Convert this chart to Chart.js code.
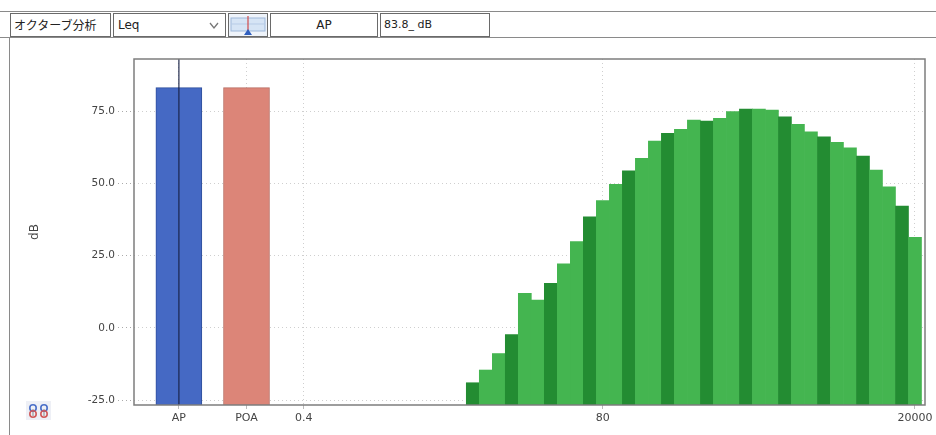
<!DOCTYPE html>
<html><head><meta charset="utf-8">
<script src="https://cdn.jsdelivr.net/npm/chart.js@4"></script>
<style>
html,body{margin:0;padding:0;background:#fff;width:936px;height:435px;overflow:hidden;font-family:"DejaVu Sans",sans-serif;}
#bar{position:absolute;left:0;top:11px;width:936px;height:27px;border-top:1px solid #8a8a8a;border-bottom:1px solid #8a8a8a;box-sizing:border-box;}
.b{position:absolute;top:13px;height:24px;border:1px solid #6a6a6a;background:#fff;font-size:12px;line-height:22px;color:#222;box-sizing:border-box;white-space:nowrap;}
#frame{position:absolute;left:9px;top:38px;width:1px;height:397px;background:#8a8a8a;}
#c{position:absolute;left:11px;top:40px;}
#pins{position:absolute;left:26px;top:401px;}
</style></head>
<body>
<div id="bar"></div>
<div class="b" style="left:10px;width:101px;padding-left:3px;font-family:'Noto Sans CJK JP',sans-serif;">オクターブ分析</div>
<div class="b" style="left:113px;width:113px;padding-left:4px;">Leq
  <svg width="10" height="8" style="position:absolute;right:6px;top:8px"><polyline points="1,1 5,6 9,1" fill="none" stroke="#777" stroke-width="1.3"/></svg>
</div>
<div class="b" style="left:228px;width:40px;background:#eef3fa;">
  <svg width="38" height="22" style="position:absolute;left:0;top:0">
    <rect x="2" y="4" width="34" height="13" fill="#d6e4f5" stroke="#9db8da" stroke-width="1"/>
    <line x1="2" y1="10" x2="36" y2="10" stroke="#b7cbe6" stroke-width="1"/>
    <line x1="19" y1="2" x2="19" y2="18" stroke="#d24a4a" stroke-width="1.2"/>
    <polygon points="15,21 19,15 23,21" fill="#2f5fbf"/>
  </svg>
</div>
<div class="b" style="left:270px;width:108px;text-align:center;">AP</div>
<div class="b" style="left:380px;width:110px;padding-left:3px;font-size:11px;">83.8_ dB</div>
<div id="frame"></div>
<svg id="pins" width="26" height="20">
  <rect x="0" y="0" width="25" height="19" fill="#eef0f6"/>
  <line x1="7" y1="8" x2="7" y2="15" stroke="#888" stroke-width="1"/>
  <line x1="18" y1="8" x2="18" y2="15" stroke="#888" stroke-width="1"/>
  <circle cx="7" cy="7" r="3.2" fill="none" stroke="#4a6fc8" stroke-width="1.6"/>
  <circle cx="18" cy="7" r="3.2" fill="none" stroke="#4a6fc8" stroke-width="1.6"/>
  <circle cx="7" cy="13" r="3.2" fill="none" stroke="#d05a5a" stroke-width="1.6"/>
  <circle cx="18" cy="13" r="3.2" fill="none" stroke="#d05a5a" stroke-width="1.6"/>
</svg>
<canvas id="c" width="925" height="395"></canvas>
<script>
// ---- data ----
const summaryLabels = ['AP', 'POA'];
const summaryValues = [83.1, 83.1];
const bandLabels = ['8','10','12.5','16','20','25','31.5','40','50','63','80','100','125','160','200','250','315','400','500','630','800','1000','1250','1600','2000','2500','3150','4000','5000','6300','8000','10000','12500','16000','20000'];
const bandValues = [-19.0,-14.6,-8.9,-2.3,11.9,9.6,15.4,22.1,29.8,38.4,44.0,49.6,54.3,58.6,64.6,67.3,68.7,71.9,71.5,72.5,74.8,75.7,75.7,75.3,73.0,70.4,67.8,66.1,64.2,62.3,59.4,54.6,48.8,42.1,31.3];
const freqTickLabels = ['0.4','80','20000'];
const yTickValues = [-25, 0, 25, 50, 75];

// ---- layout ----
const baseFreq = 0.4;
const slotOf = f => Math.round(10 * Math.log10(parseFloat(f) / baseFreq)); // 1/3-octave slot
const summarySlots = [-9.6, -4.4];
const xMin = -13.05, xMax = 47.77;
const yMin = -26.7, yMax = 93.0;
const allTickLabels = [...summaryLabels, ...freqTickLabels];
const allTickSlots = [...summarySlots, ...freqTickLabels.map(slotOf)];

const dark = '#238c32', light = '#44b550';

const framePlugin = {
  id: 'frame',
  afterDatasetsDraw(chart) {
    const {ctx, chartArea: a, scales} = chart;
    ctx.save();
    // cursor line at AP
    const cx = scales.x.getPixelForValue(summarySlots[0]);
    ctx.strokeStyle = 'rgba(25,35,70,0.72)';
    ctx.lineWidth = 1.6;
    ctx.beginPath(); ctx.moveTo(cx, a.top); ctx.lineTo(cx, a.bottom); ctx.stroke();
    // plot frame
    ctx.strokeStyle = '#7d7d7d';
    ctx.lineWidth = 1.5;
    ctx.strokeRect(a.left, a.top, a.right - a.left, a.bottom - a.top);
    ctx.restore();
  }
};

new Chart(document.getElementById('c'), {
  type: 'bar',
  data: {
    datasets: [
      {
        data: summaryLabels.map((l, i) => ({x: summarySlots[i], y: summaryValues[i]})),
        backgroundColor: ['#4569c4', '#dc8578'],
        borderColor: ['#2f4f9c', '#b86d62'],
        borderWidth: 1,
        barThickness: 46,
        grouped: false,
        base: yMin
      },
      {
        data: bandLabels.map((f, i) => ({x: slotOf(f), y: bandValues[i]})),
        backgroundColor: ctx => (ctx.dataIndex % 3 === 0 ? dark : light),
        borderWidth: 0,
        barPercentage: 1,
        categoryPercentage: 1,
        grouped: false,
        base: yMin
      }
    ]
  },
  options: {
    responsive: false,
    animation: false,
    devicePixelRatio: 1,
    layout: {padding: {left: 0, right: 11, top: 19, bottom: 0}},
    plugins: {legend: {display: false}, tooltip: {enabled: false}},
    scales: {
      x: {
        type: 'linear',
        min: xMin, max: xMax,
        offset: false,
        afterBuildTicks: s => { s.ticks = allTickSlots.map(v => ({value: v})); },
        afterFit: s => { s.height = 30; },
        ticks: {
          autoSkip: false, maxRotation: 0, padding: 3,
          color: '#444', font: {family: 'DejaVu Sans', size: 11},
          callback: (v, i) => allTickLabels[i]
        },
        grid: {color: '#cfcfcf', lineWidth: 1, tickLength: 4, tickColor: '#bbb', offset: false},
        border: {display: false, dash: [1, 3]}
      },
      y: {
        min: yMin, max: yMax,
        afterBuildTicks: s => { s.ticks = yTickValues.map(v => ({value: v})); },
        afterFit: s => { s.width = 123; },
        title: {display: true, text: 'dB', color: '#444', font: {family: 'DejaVu Sans', size: 12}, padding: {top: 17, bottom: 0}},
        ticks: {
          padding: 3, color: '#444', font: {family: 'DejaVu Sans', size: 10.5},
          callback: v => v.toFixed(1)
        },
        grid: {color: '#cfcfcf', lineWidth: 1, tickLength: 16, tickColor: '#aaa', tickBorderDash: [1, 3]},
        border: {display: false, dash: [1, 3]}
      }
    }
  },
  plugins: [framePlugin]
});
</script>
</body></html>
